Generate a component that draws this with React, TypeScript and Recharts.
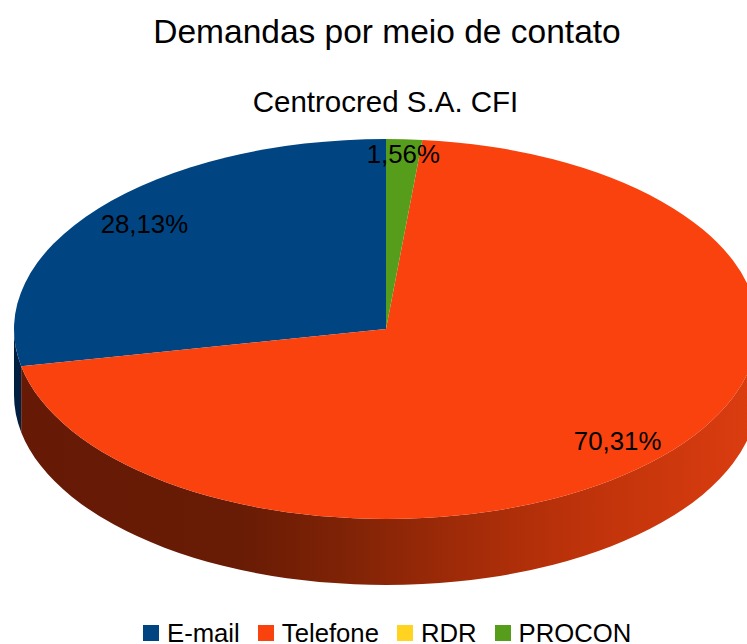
import { PieChart, Pie, Cell, Legend } from 'recharts';

const categories = ['E-mail', 'Telefone', 'RDR', 'PROCON'];
const shares = [28.13, 70.31, 0, 1.56];
const topColors = ['#014482', '#fa420e', '#ffd320', '#579d1c'];
const sideColors = ['#011f40', 'url(#sideRed)', '#7f6a10', '#2b4e0e'];

const data = categories.map((name, i) => ({ name, value: shares[i] }));

const FONT = '"Liberation Sans", Arial, sans-serif';
const SQUASH = 190 / 372; // the round pie is drawn flattened
const DEPTH = 66;

const point = (cx: number, cy: number, r: number, deg: number) => {
  const a = (deg * Math.PI) / 180;
  return [cx + r * Math.cos(a), cy - r * SQUASH * Math.sin(a)];
};

function TopSlice(props: any) {
  const { cx, cy, outerRadius: r, startAngle, endAngle, fill } = props;
  if (Math.abs(endAngle - startAngle) < 0.01) return <g />;
  const [x1, y1] = point(cx, cy, r, startAngle);
  const [x2, y2] = point(cx, cy, r, endAngle);
  const large = Math.abs(endAngle - startAngle) > 180 ? 1 : 0;
  const d = `M${cx},${cy} L${x1},${y1} A${r},${r * SQUASH} 0 ${large} 0 ${x2},${y2} Z`;
  return <path d={d} fill={fill} />;
}

// wall below the top face, only the front half of the pie can be seen
function SideSlice(props: any) {
  const { cx, cy, outerRadius: r, startAngle, endAngle, fill } = props;
  const from = Math.max(startAngle, 180);
  const to = Math.min(endAngle, 360);
  if (to <= from) return <g />;
  const [x1, y1] = point(cx, cy, r, from);
  const [x2, y2] = point(cx, cy, r, to);
  const ry = r * SQUASH;
  const d =
    `M${x1},${y1} A${r},${ry} 0 0 0 ${x2},${y2} L${x2},${y2 + DEPTH} ` +
    `A${r},${ry} 0 0 1 ${x1},${y1 + DEPTH} Z`;
  return <path d={d} fill={fill} />;
}

function PercentLabel(props: any) {
  const { cx, cy, outerRadius: r, midAngle, value } = props;
  if (!value) return null;
  const small = value < 5;
  const [x] = point(cx, cy, r * (small ? 0.95 : 0.84), midAngle);
  const [, y] = point(cx, cy, r * (small ? 0.92 : 0.875), midAngle);
  return (
    <text x={x} y={y} textAnchor="middle" dominantBaseline="central" fontSize={25.8} fontFamily={FONT} fill="#000">
      {value.toFixed(2).replace('.', ',')}%
    </text>
  );
}

function LegendRow({ payload }: any) {
  const items = (payload || []).filter((item: any) => item.type !== 'none');
  return (
    <div style={{ display: 'flex', paddingLeft: 143, fontFamily: FONT, fontSize: 25.7, lineHeight: '22px', color: '#000' }}>
      {items.map((item: any, i: number) => (
        <div
          key={item.value}
          style={{ display: 'flex', alignItems: 'center', marginRight: i < items.length - 1 ? 18 : 0, whiteSpace: 'nowrap' }}
        >
          <span style={{ width: 16, height: 16, background: item.color, marginRight: 8, display: 'inline-block' }} />
          {item.value}
        </div>
      ))}
    </div>
  );
}

export default function App() {
  return (
    <div style={{ position: 'absolute', left: 0, top: 0, width: 747, height: 644, overflow: 'hidden', background: '#fff' }}>
      <PieChart width={747} height={644} margin={{ top: 0, right: 0, bottom: 0, left: 0 }}>
        <defs>
          <linearGradient id="sideRed" gradientUnits="userSpaceOnUse" x1="14" y1="0" x2="758" y2="0">
            <stop offset="0" stopColor="#661a05" />
            <stop offset="0.3" stopColor="#681b05" />
            <stop offset="0.45" stopColor="#802306" />
            <stop offset="0.6" stopColor="#a02b08" />
            <stop offset="0.75" stopColor="#bc320a" />
            <stop offset="1" stopColor="#dc3d10" />
          </linearGradient>
        </defs>
        <text x={387} y={31} textAnchor="middle" dominantBaseline="central" fontSize={33.5} fontFamily={FONT} fill="#000">
          Demandas por meio de contato
        </text>
        <text x={385.5} y={101} textAnchor="middle" dominantBaseline="central" fontSize={29.5} fontFamily={FONT} fill="#000">
          Centrocred S.A. CFI
        </text>
        <Pie
          data={data}
          dataKey="value"
          nameKey="name"
          cx={386}
          cy={329}
          outerRadius={372}
          startAngle={90}
          endAngle={450}
          stroke="none"
          legendType="none"
          shape={SideSlice}
          isAnimationActive={false}
        >
          {data.map((entry, i) => (
            <Cell key={`side-${entry.name}`} fill={sideColors[i]} />
          ))}
        </Pie>
        <Pie
          data={data}
          dataKey="value"
          nameKey="name"
          cx={386}
          cy={329}
          outerRadius={372}
          startAngle={90}
          endAngle={450}
          stroke="none"
          shape={TopSlice}
          label={PercentLabel}
          labelLine={false}
          isAnimationActive={false}
        >
          {data.map((entry, i) => (
            <Cell key={`top-${entry.name}`} fill={topColors[i]} />
          ))}
        </Pie>
        <Legend
          content={<LegendRow />}
          itemSorter={null}
          wrapperStyle={{ position: 'absolute', left: 0, width: 747, top: 622, bottom: 'auto', margin: 0 }}
        />
      </PieChart>
    </div>
  );
}
